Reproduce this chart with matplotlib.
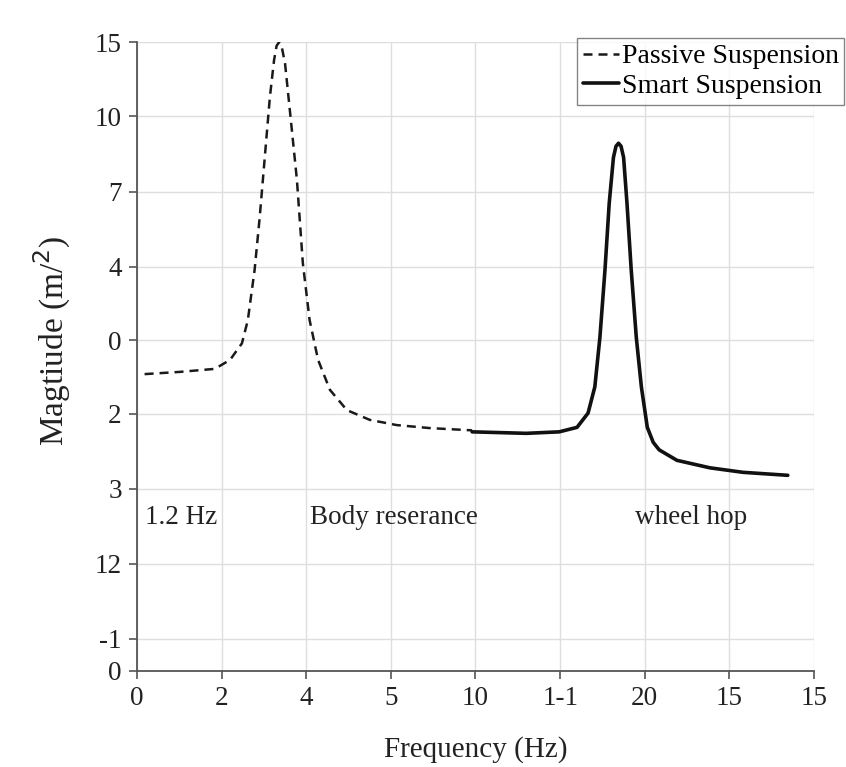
import matplotlib.pyplot as plt

plt.rcParams['font.family'] = ['Liberation Serif', 'DejaVu Serif']

# x tick labels (evenly spaced positions) and y tick labels (bottom to top)
x_labels = ['0', '2', '4', '5', '10', '1-1', '20', '15', '15']
y_labels = ['0', '-1', '12', '3', '2', '0', '4', '7', '10', '15']
y_pos = [0, 0.43, 1.43, 2.43, 3.43, 4.41, 5.39, 6.39, 7.40, 8.39]

# passive suspension curve (axis position units)
passive_x = [0.09, 0.51, 0.92, 1.10, 1.24, 1.31, 1.39, 1.45, 1.51, 1.57, 1.62, 1.65, 1.68, 1.71,
             1.75, 1.81, 1.89, 1.96, 2.04, 2.14, 2.28, 2.48, 2.75, 3.07, 3.46, 3.96]
passive_y = [3.96, 3.99, 4.03, 4.15, 4.37, 4.68, 5.35, 6.05, 6.85, 7.65, 8.15, 8.34, 8.39, 8.33,
             8.10, 7.44, 6.55, 5.44, 4.68, 4.15, 3.75, 3.48, 3.35, 3.28, 3.24, 3.21]

# smart suspension curve
smart_x = [3.96, 4.60, 4.99, 5.20, 5.33, 5.41, 5.47, 5.53, 5.58, 5.63, 5.66, 5.69, 5.72,
           5.75, 5.79, 5.84, 5.90, 5.96, 6.03, 6.10, 6.17, 6.38, 6.77, 7.16, 7.69]
smart_y = [3.19, 3.17, 3.19, 3.25, 3.44, 3.79, 4.45, 5.35, 6.24, 6.85, 7.00, 7.04, 7.00,
           6.85, 6.24, 5.35, 4.45, 3.79, 3.25, 3.05, 2.95, 2.81, 2.71, 2.65, 2.61]

fig = plt.figure(figsize=(8.46, 7.67), dpi=100)
ax = fig.add_axes([0.1619, 0.1252, 0.8003, 0.82])

ax.plot(passive_x, passive_y, color='#1a1a1a', lw=1.8, linestyle=(0, (3.6, 2.4)),
        label='Passive Suspension', solid_joinstyle='round')
ax.plot(smart_x, smart_y, color='#111111', lw=2.6, label='Smart Suspension',
        solid_joinstyle='round', solid_capstyle='round')

ax.set_xlim(0, 8)
ax.set_ylim(0, 8.39)
ax.set_xticks(range(len(x_labels)))
ax.set_xticklabels(x_labels)
ax.set_yticks(y_pos)
ax.set_yticklabels(y_labels)
ax.grid(True, color='#dedede', lw=1.0)
ax.set_axisbelow(True)

for s in ['top', 'right']:
    ax.spines[s].set_visible(False)
for s in ['left', 'bottom']:
    ax.spines[s].set_color('#555555')
    ax.spines[s].set_linewidth(1.3)
ax.tick_params(colors='#555555', labelcolor='#222222', labelsize=19.5, length=6, width=1.2,
               pad=5)

ax.set_xlabel('Frequency (Hz)', fontsize=21, color='#222222', labelpad=18)
ax.set_ylabel('Magtiude (m/$^2$)', fontsize=24, color='#222222')
ax.yaxis.set_label_coords(-0.094, 0.525)

ax.text(0.09, 2.05, '1.2 Hz', fontsize=19.5, color='#222222', va='center')
ax.text(2.04, 2.05, 'Body reserance', fontsize=19.5, color='#222222', va='center')
ax.text(5.89, 2.05, 'wheel hop', fontsize=19.5, color='#222222', va='center')

leg = fig.legend(loc='upper right', bbox_to_anchor=(0.998, 0.950), fontsize=20,
                 frameon=True, fancybox=False, handlelength=1.3, handletextpad=0.1,
                 borderpad=0.2, labelspacing=0.15, borderaxespad=0)
leg.get_frame().set_edgecolor('#666666')
leg.get_frame().set_linewidth(1.0)

fig.savefig('out.png', dpi=100)
